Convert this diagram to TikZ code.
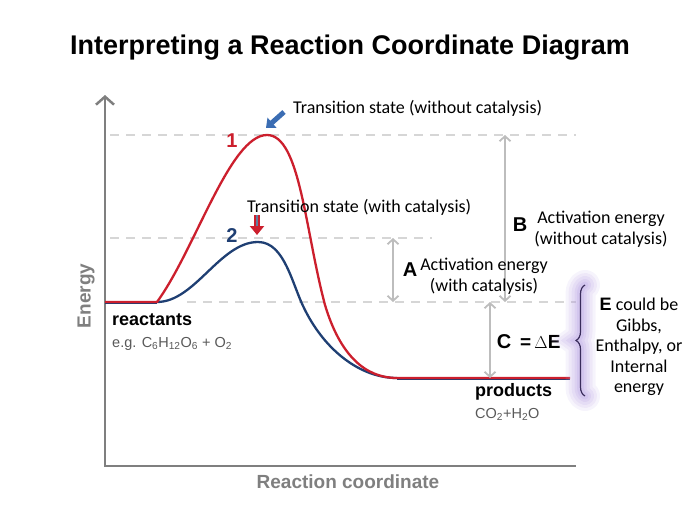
\documentclass[tikz,border=0pt]{standalone}
\usepackage{fontspec}
\setmainfont{Carlito}
\newfontfamily\arialfont{Liberation Sans}
\usetikzlibrary{arrows.meta, decorations.pathreplacing}
\definecolor{cred}{HTML}{CC1F2D}
\definecolor{cnavy}{HTML}{1F3F73}
\definecolor{cblue}{HTML}{3B6DB3}
\definecolor{cgrey}{HTML}{7F7F7F}
\definecolor{ctext}{HTML}{595959}
\definecolor{clight}{HTML}{BDBDBD}
\definecolor{cdash}{HTML}{D6D6D6}
\definecolor{cglow}{HTML}{B9A3E3}
\definecolor{cbrace}{HTML}{3A2D5C}
\definecolor{cslate}{HTML}{5F7F9F}
\tikzset{
  every picture/.style={x=1pt, y=-1pt},
  axis/.style={draw=cgrey, line width=2.5pt},
  level/.style={draw=cdash, line width=1.3pt, dash pattern=on 9pt off 7pt},
  gap/.style={{Straight Barb[length=5pt,width=11pt]}-{Straight Barb[length=5pt,width=11pt]}, draw=clight, line width=1.8pt},
  curve/.style={line width=2.3pt, line join=round},
  title/.style={font=\arialfont\bfseries\fontsize{27}{27}\selectfont},
  axislabel/.style={font=\arialfont\bfseries\fontsize{19}{19}\selectfont, text=cgrey},
  label/.style={font=\fontsize{18}{21}\selectfont, align=center, inner sep=0pt},
  letter/.style={font=\arialfont\bfseries\fontsize{20}{20}\selectfont, inner sep=0pt},
  species/.style={font=\arialfont\bfseries\fontsize{18}{18}\selectfont, inner sep=0pt, anchor=base west},
  formula/.style={font=\arialfont\fontsize{14.5}{14.5}\selectfont, text=ctext, inner sep=0pt, anchor=base west},
}

\begin{document}
\begin{tikzpicture}
  \useasboundingbox (0,0) rectangle (700,525);
  \node[title, anchor=base] (head) at (350,54) {Interpreting a Reaction Coordinate Diagram};

  % axes
  \coordinate (origin) at (105,466);
  \coordinate (ytop) at (105,95);
  \coordinate (xend) at (576,466);
  \draw[axis, {Straight Barb[length=8pt,width=18pt]}-] (ytop) -- (origin) -- (xend);
  \node[axislabel, rotate=90] (energy) at (86,296) {Energy};
  \node[axislabel, anchor=base] (rc) at (348,488) {Reaction coordinate};

  % energy levels
  \coordinate (ts1) at (267,135);
  \coordinate (ts2) at (258,242);
  \coordinate (rstart) at (157,302);
  \coordinate (pstart) at (397,378);
  \draw[level] (110,135) -- (576,135);
  \draw[level] (110,238) -- (432,238);
  \draw[level] (187,302) -- (576,302);

  % the two paths
  \draw[curve, cnavy] (105,303.2) -- (157,303.2);
  \draw[curve, cnavy] (397,379.2) -- (570,379.2);
  \draw[curve, cnavy] (rstart) .. controls (195,302) and (220,242) .. (ts2)
    .. controls (285,242) and (292,285) .. (305,310)
    .. controls (325,350) and (360,378) .. (pstart);
  \draw[curve, cred] (105,302) -- (rstart) .. controls (195,250) and (230,135) .. (ts1)
    .. controls (300,135) and (305,230) .. (325,305)
    .. controls (340,355) and (365,378) .. (pstart) -- (570,378);
  \node[letter, text=cred] (one) at (232,141) {1};
  \node[letter, text=cnavy] (two) at (232,236) {2};

  % transition states
  \coordinate (tail1) at (284,112);
  \coordinate (head1) at (266,128);
  \draw[cblue, line width=5pt, -{Triangle[length=8pt,width=13pt]}] (tail1) -- (head1);
  \node[label, anchor=base west] (tsnone) at (293,113) {Transition state (without catalysis)};
  \coordinate (tail2) at (257,215);
  \coordinate (head2) at (257,235);
  \draw[cred, line width=6pt, -{Triangle[length=9pt,width=14pt]}] (tail2) -- (head2);
  \draw[cslate, line width=2pt] (tail2) -- ++(0,11);
  \node[label, anchor=base west] (tscat) at (247,212) {Transition state (with catalysis)};

  % activation energies
  \coordinate (btop) at (505,135);
  \coordinate (bbot) at (505,302);
  \draw[gap] (btop) -- (bbot);
  \node[letter] (bl) at (520,225) {B};
  \node[label] (bt) at (601,229) {Activation energy\\(without catalysis)};
  \coordinate (atop) at (393,238);
  \coordinate (abot) at (393,302);
  \draw[gap] (atop) -- (abot);
  \node[letter] (al) at (410,270) {A};
  \node[label] (at) at (484,276) {Activation energy\\(with catalysis)};

  % energy change
  \coordinate (ctop) at (490,302);
  \coordinate (cbot) at (490,378);
  \draw[gap] (ctop) -- (cbot);
  \node[letter] (cl) at (504,342) {C};
  \node[font=\arialfont\fontsize{19}{19}\selectfont, inner sep=0pt, anchor=west] (de) at (520,342) {\textbf{=}\,$\Delta$\textbf{E}};

  % brace
  \coordinate (blow) at (585,396);
  \coordinate (bhigh) at (585,285);
  \foreach \w/\o in {30/0.12, 24/0.14, 18/0.17, 12/0.2, 7/0.25}
    \draw[cglow, line width=\w pt, opacity=\o, line cap=round, decorate, decoration={brace, amplitude=9pt}] (blow) -- (bhigh);
  \draw[cbrace, line width=1.2pt, decorate, decoration={brace, amplitude=9pt}] (blow) -- (bhigh);
  \node[label, font=\fontsize{18}{20.5}\selectfont] (etext) at (639,347) {{\arialfont\bfseries E} could be\\Gibbs,\\Enthalpy, or\\Internal\\energy};

  % species
  \node[species] (react) at (112,325) {reactants};
  \node[formula] (rform) at (112,347) {e.g. C\textsubscript{6}H\textsubscript{12}O\textsubscript{6} + O\textsubscript{2}};
  \node[species] (prod) at (475,396) {products};
  \node[formula] (pform) at (475,418) {CO\textsubscript{2}+H\textsubscript{2}O};
\end{tikzpicture}
\end{document}
